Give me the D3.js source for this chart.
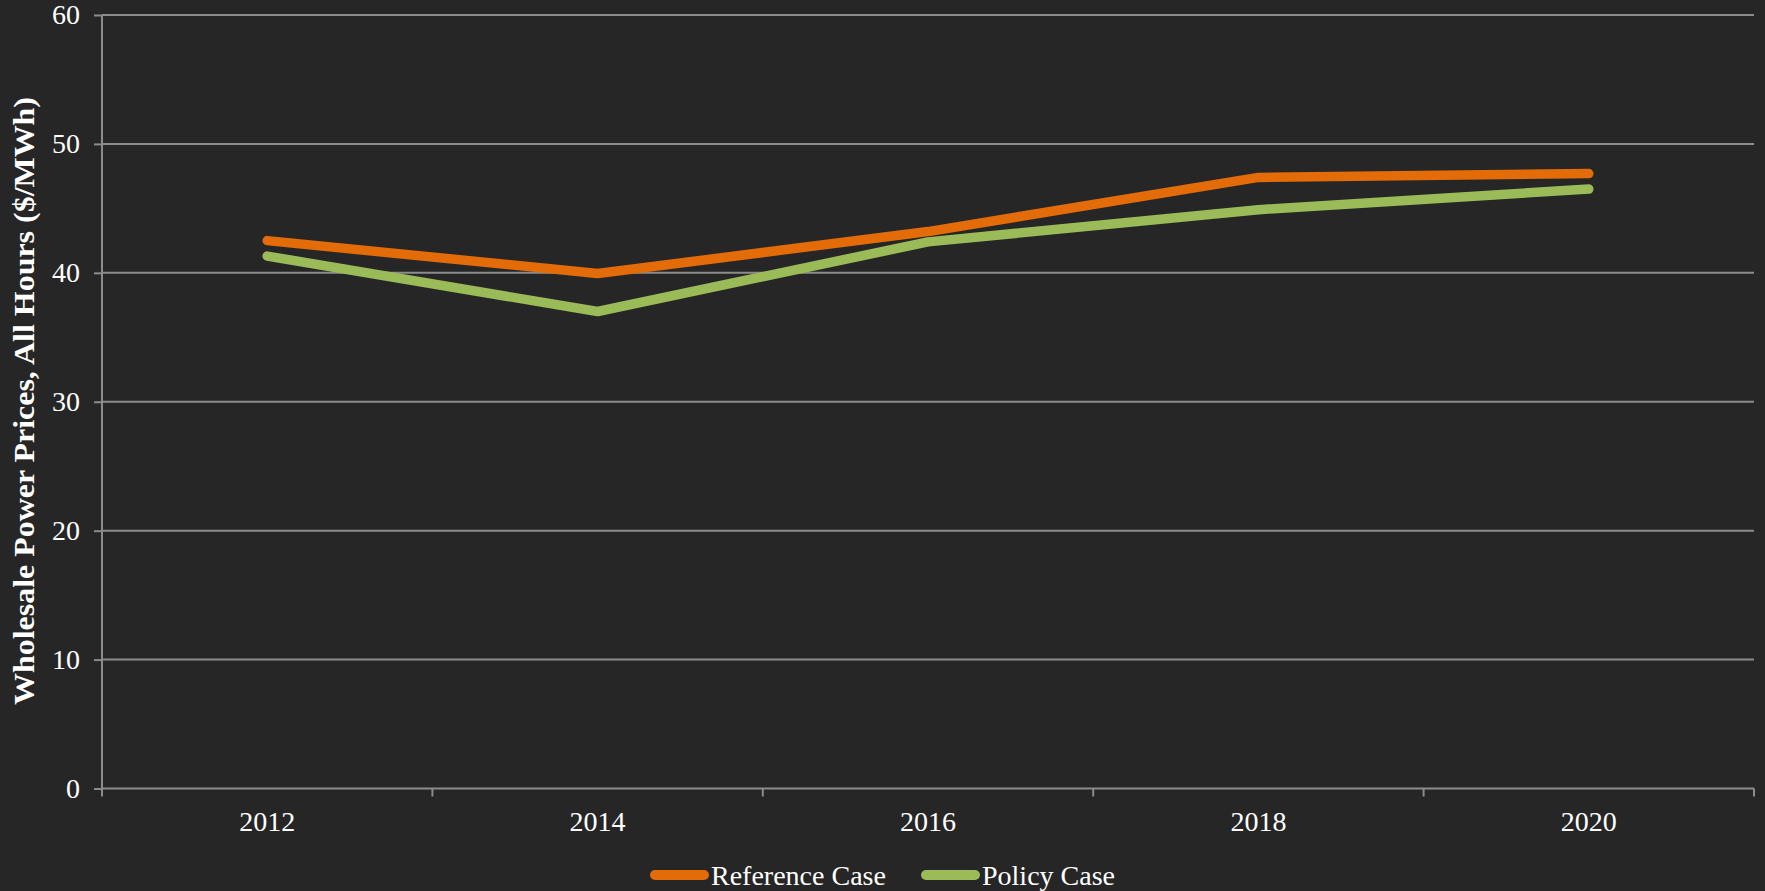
<!DOCTYPE html>
<html>
<head>
<meta charset="utf-8">
<script src="https://cdn.jsdelivr.net/npm/d3@7"></script>
<style>
  html, body { margin: 0; padding: 0; background: #262626; }
  svg { display: block; }
  text { font-family: "Liberation Serif", "DejaVu Serif", serif; fill: #fff; }
</style>
</head>
<body>
<svg width="1765" height="891"></svg>
<script>
var years = ["2012", "2014", "2016", "2018", "2020"];
var referenceCase = [42.5, 39.95, 43.2, 47.4, 47.7];
var policyCase = [41.3, 37.0, 42.4, 44.9, 46.5];
var yTicks = [0, 10, 20, 30, 40, 50, 60];

var series = [
  {name: "Reference Case", values: referenceCase, color: "#e36c09"},
  {name: "Policy Case", values: policyCase, color: "#9bbb59"}
];

var svg = d3.select("svg"),
    margin = {top: 15, right: 11, bottom: 102.5, left: 102},
    width = svg.attr("width") - margin.left - margin.right,
    height = svg.attr("height") - margin.top - margin.bottom,
    g = svg.append("g").attr("transform", "translate(" + margin.left + "," + margin.top + ")");

var x = d3.scaleBand().domain(years).range([0, width]),
    y = d3.scaleLinear().domain([0, 60]).range([height, 0]);

var gridColor = "#8c8c8c";

// gridlines
g.append("g")
    .attr("class", "grid")
    .selectAll("line")
    .data(yTicks.slice(1))
    .enter().append("line")
    .attr("x1", 0).attr("x2", width)
    .attr("y1", function(d) { return y(d); })
    .attr("y2", function(d) { return y(d); })
    .attr("stroke", gridColor)
    .attr("stroke-width", 2);

// y axis
var yAxis = g.append("g")
    .call(d3.axisLeft(y).tickValues(yTicks).tickSize(8).tickPadding(14));
yAxis.select(".domain").attr("stroke", gridColor).attr("stroke-width", 2).attr("d", "M0," + height + "V0");
yAxis.selectAll(".tick line").attr("stroke", gridColor).attr("stroke-width", 2);
yAxis.selectAll(".tick text").attr("font-size", 28).attr("fill", "#fff")
    .style("font-family", "'Liberation Serif', serif");

// x axis: ticks at band edges
var xAxis = g.append("g")
    .attr("transform", "translate(0," + height + ")");
xAxis.append("line")
    .attr("x1", 0).attr("x2", width)
    .attr("stroke", gridColor).attr("stroke-width", 2);
var edges = years.map(function(d) { return x(d); }).concat([width]);
xAxis.selectAll(".edge")
    .data(edges)
    .enter().append("line")
    .attr("class", "edge")
    .attr("x1", function(d) { return d; }).attr("x2", function(d) { return d; })
    .attr("y1", 0).attr("y2", 8)
    .attr("stroke", gridColor).attr("stroke-width", 2);
xAxis.selectAll(".label")
    .data(years)
    .enter().append("text")
    .attr("class", "label")
    .attr("x", function(d) { return x(d) + x.bandwidth() / 2; })
    .attr("y", 42)
    .attr("text-anchor", "middle")
    .attr("font-size", 28)
    .text(function(d) { return d; });

// y axis title
svg.append("text")
    .attr("transform", "translate(34,401) rotate(-90)")
    .attr("text-anchor", "middle")
    .attr("font-size", 30)
    .attr("font-weight", "bold")
    .attr("textLength", 608)
    .attr("lengthAdjust", "spacingAndGlyphs")
    .text("Wholesale Power Prices, All Hours ($/MWh)");

// lines
var line = d3.line()
    .x(function(d, i) { return x(years[i]) + x.bandwidth() / 2; })
    .y(function(d) { return y(d); });

g.selectAll(".series")
    .data(series)
    .enter().append("path")
    .attr("class", "series")
    .attr("d", function(d) { return line(d.values); })
    .attr("fill", "none")
    .attr("stroke", function(d) { return d.color; })
    .attr("stroke-width", 9.5)
    .attr("stroke-linecap", "round")
    .attr("stroke-linejoin", "round");

// legend
var legendX = [650, 921];
var legend = svg.selectAll(".legend")
    .data(series)
    .enter().append("g")
    .attr("class", "legend")
    .attr("transform", function(d, i) { return "translate(" + legendX[i] + ",875)"; });
legend.append("line")
    .attr("x1", 5).attr("x2", 54)
    .attr("stroke", function(d) { return d.color; })
    .attr("stroke-width", 10)
    .attr("stroke-linecap", "round");
legend.append("text")
    .attr("x", 61)
    .attr("y", 10)
    .attr("font-size", 28)
    .text(function(d) { return d.name; });
</script>
</body>
</html>
